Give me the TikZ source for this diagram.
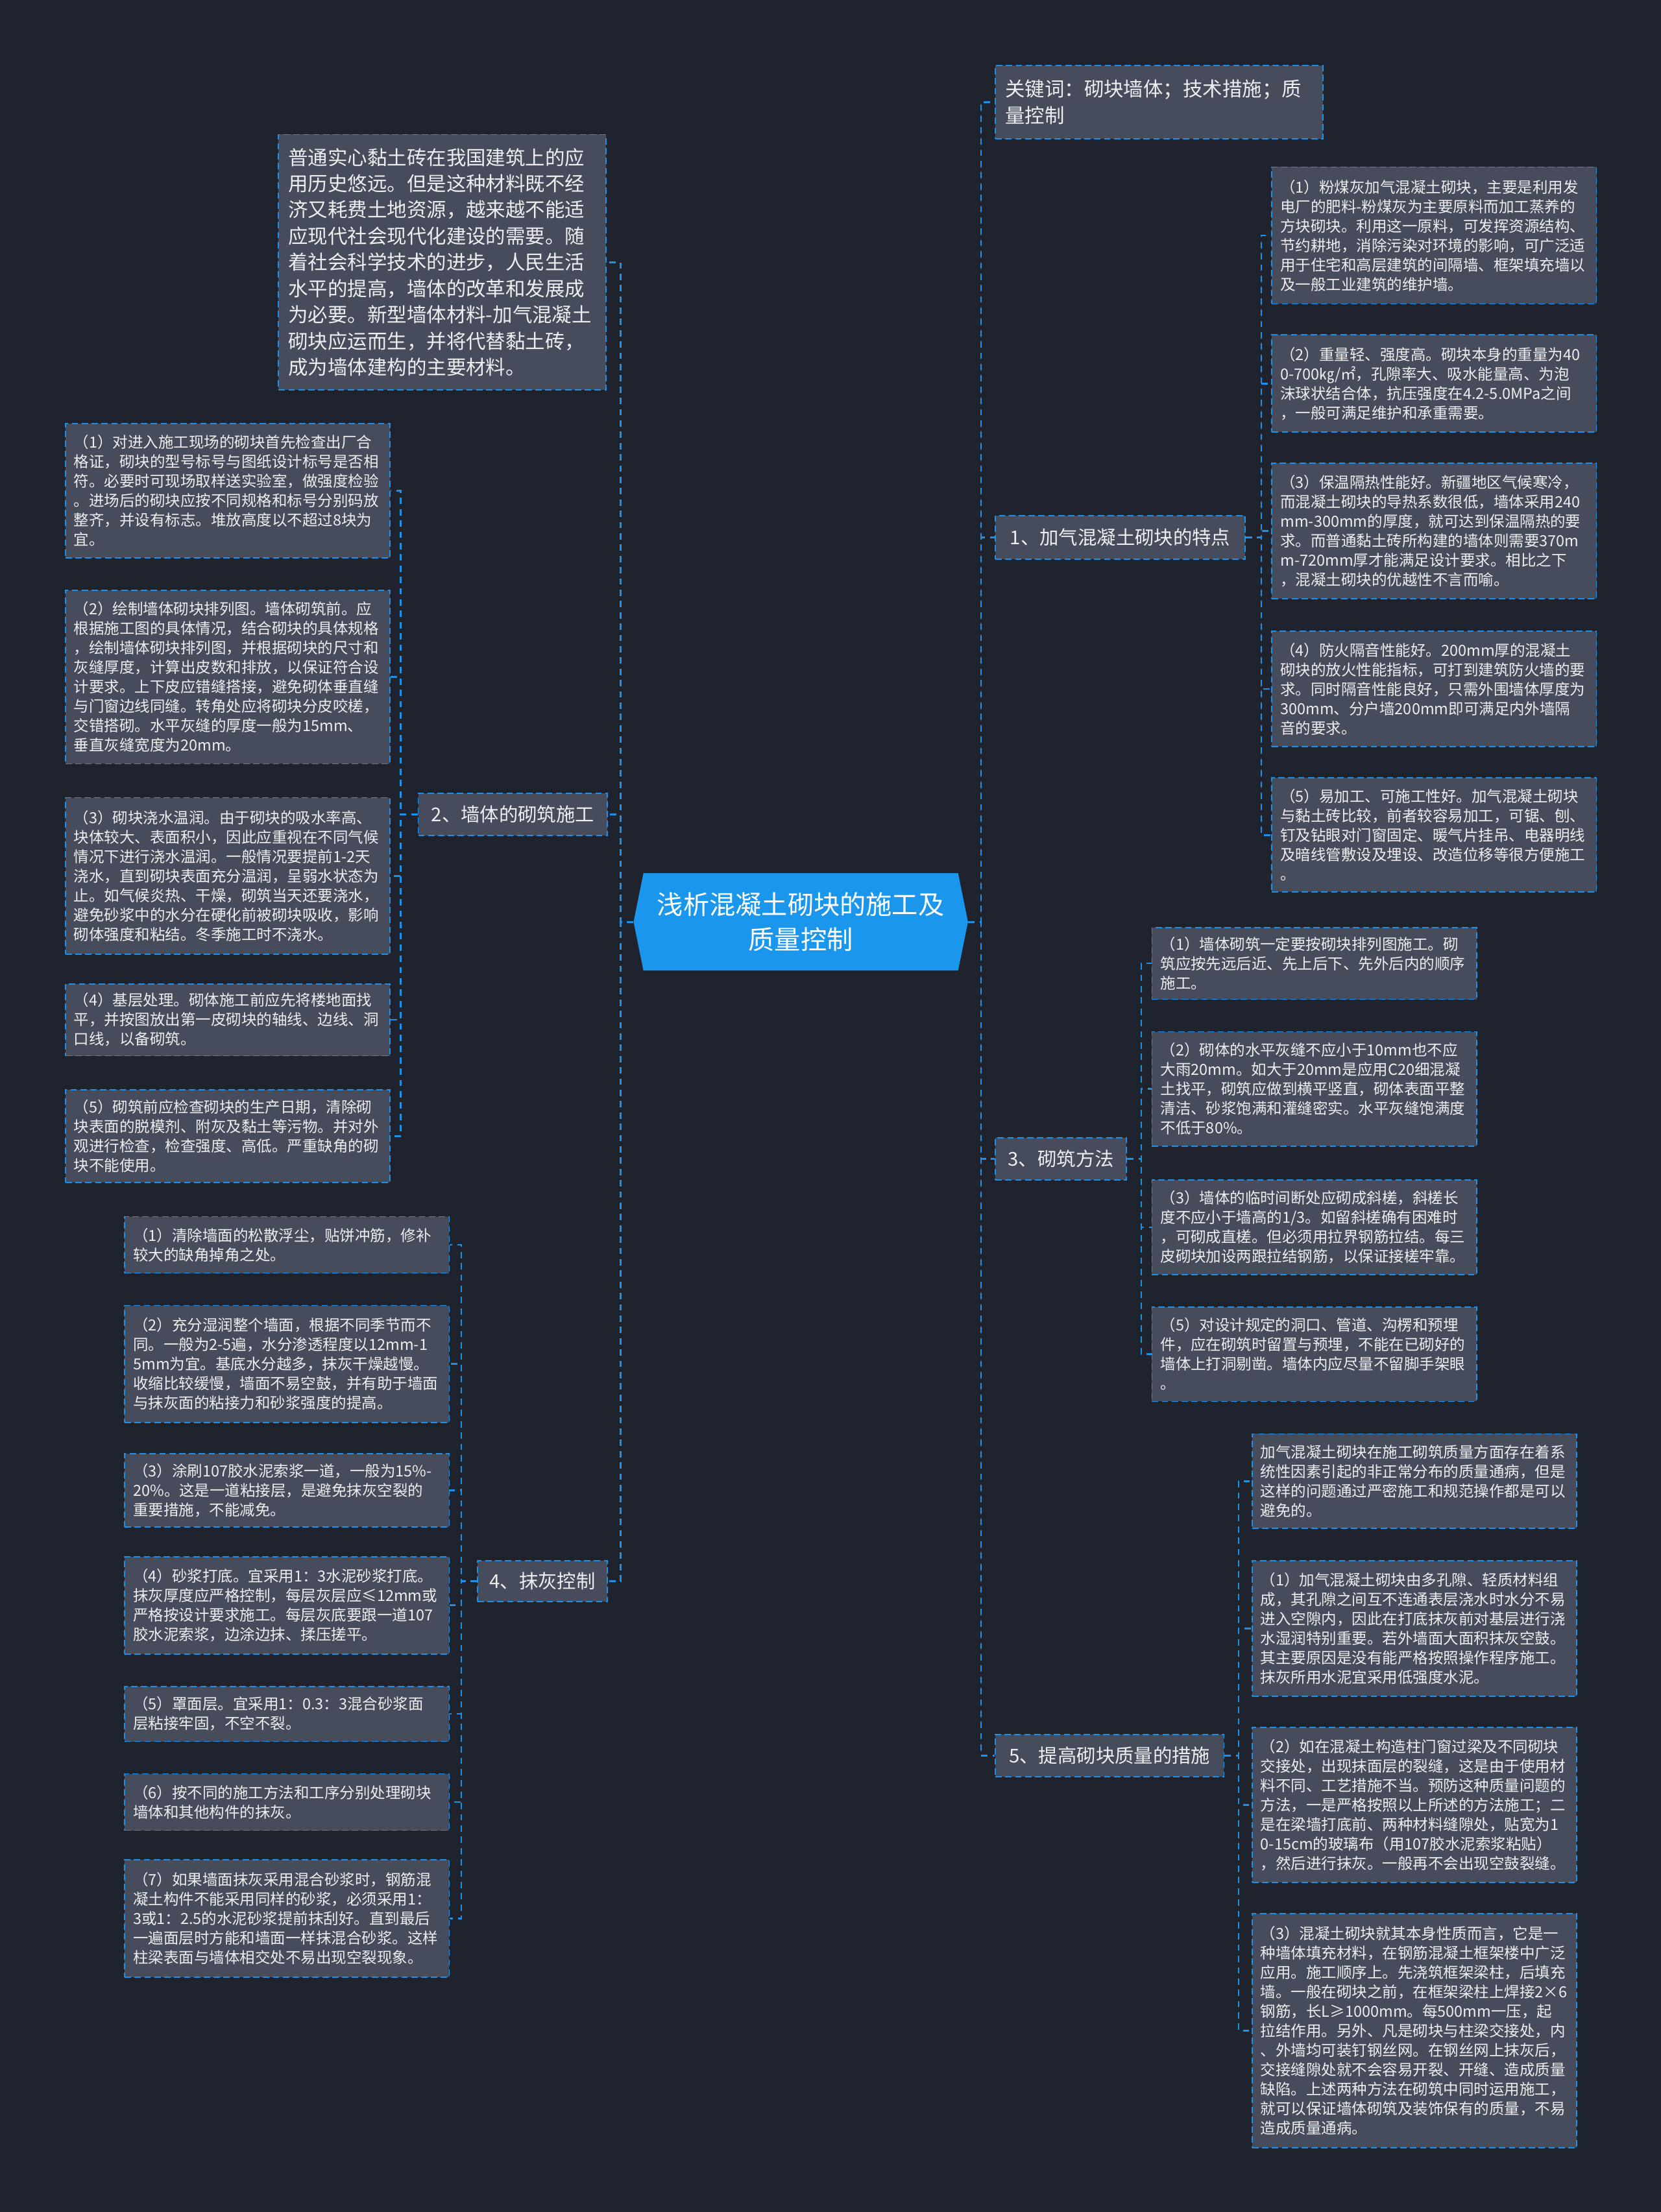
\documentclass[tikz,border=0pt]{standalone}
\usepackage{fontspec}
\setmainfont{Noto Sans CJK SC}
\usepackage{tikz}

\definecolor{bgcol}{RGB}{31,35,46}
\definecolor{boxcol}{RGB}{70,76,91}
\definecolor{linecol}{RGB}{30,145,230}
\definecolor{titlecol}{RGB}{26,150,236}
\definecolor{txtcol}{RGB}{238,238,240}

\tikzset{
  box/.style = {draw = linecol, fill = boxcol, dash pattern = on 4.5pt off 2.5pt,
    line width = 0.8pt, text = txtcol, anchor = north west, align = left, inner ysep = 0pt},
  leaf/.style = {box, font = \fontsize{10.8}{13.8}\selectfont, text width = 218pt, inner xsep = 6pt},
  big/.style = {box, font = \fontsize{14}{18.6}\selectfont, text width = 218pt, inner xsep = 7pt},
  sect/.style = {box, font = \fontsize{13.5}{16}\selectfont, align = center, inner xsep = 0pt},
  title/.style = {text = white, font = \fontsize{18.5}{25}\selectfont, align = center,
    minimum width = 237pt, minimum height = 69pt, inner sep = 0pt},
  link/.style = {draw = linecol, line width = 1.2pt, dash pattern = on 4.5pt off 3.5pt}
}

\begin{document}
\begin{tikzpicture}[x = 1pt, y = -1pt]
\useasboundingbox (0, 0) rectangle (1177, 1568);
\fill[bgcol] (0, 0) rectangle (1177, 1568);

% centre
\fill[titlecol] (449, 653.5) -- (456, 619) -- (679, 619) -- (686, 653.5) -- (679, 688) -- (456, 688) -- cycle;
\node (title) at (567.5, 653.5) [title] {浅析混凝土砌块的施工及\\质量控制};

% left side
\node (intro) at (197, 95) [big, minimum height = 181] {普通实心黏土砖在我国建筑上的应\\用历史悠远。但是这种材料既不经\\济又耗费土地资源，越来越不能适\\应现代社会现代化建设的需要。随\\着社会科学技术的进步，人民生活\\水平的提高，墙体的改革和发展成\\为必要。新型墙体材料-加气混凝土\\砌块应运而生，并将代替黏土砖，\\成为墙体建构的主要材料。};

\node (s2) at (296, 562) [sect, minimum width = 134, minimum height = 30] {2、墙体的砌筑施工};
\node (s2a) at (46, 300) [leaf, minimum height = 95] {（1）对进入施工现场的砌块首先检查出厂合\\格证，砌块的型号标号与图纸设计标号是否相\\符。必要时可现场取样送实验室，做强度检验\\。进场后的砌块应按不同规格和标号分别码放\\整齐，并设有标志。堆放高度以不超过8块为\\宜。};
\node (s2b) at (46, 418) [leaf, minimum height = 123] {（2）绘制墙体砌块排列图。墙体砌筑前。应\\根据施工图的具体情况，结合砌块的具体规格\\，绘制墙体砌块排列图，并根据砌块的尺寸和\\灰缝厚度，计算出皮数和排放，以保证符合设\\计要求。上下皮应错缝搭接，避免砌体垂直缝\\与门窗边线同缝。转角处应将砌块分皮咬槎，\\交错搭砌。水平灰缝的厚度一般为15mm、\\垂直灰缝宽度为20mm。};
\node (s2c) at (46, 565) [leaf, minimum height = 111] {（3）砌块浇水温润。由于砌块的吸水率高、\\块体较大、表面积小，因此应重视在不同气候\\情况下进行浇水温润。一般情况要提前1-2天\\浇水，直到砌块表面充分温润，呈弱水状态为\\止。如气候炎热、干燥，砌筑当天还要浇水，\\避免砂浆中的水分在硬化前被砌块吸收，影响\\砌体强度和粘结。冬季施工时不浇水。};
\node (s2d) at (46, 697) [leaf, minimum height = 51] {（4）基层处理。砌体施工前应先将楼地面找\\平，并按图放出第一皮砌块的轴线、边线、洞\\口线，以备砌筑。};
\node (s2e) at (46, 772) [leaf, minimum height = 66] {（5）砌筑前应检查砌块的生产日期，清除砌\\块表面的脱模剂、附灰及黏土等污物。并对外\\观进行检查，检查强度、高低。严重缺角的砌\\块不能使用。};

\node (s4) at (338, 1106) [sect, minimum width = 92, minimum height = 29] {4、抹灰控制};
\node (s4a) at (88, 862) [leaf, minimum height = 40] {（1）清除墙面的松散浮尘，贴饼冲筋，修补\\较大的缺角掉角之处。};
\node (s4b) at (88, 925) [leaf, minimum height = 83] {（2）充分湿润整个墙面，根据不同季节而不\\同。一般为2-5遍，水分渗透程度以12mm-1\\5mm为宜。基底水分越多，抹灰干燥越慢。\\收缩比较缓慢，墙面不易空鼓，并有助于墙面\\与抹灰面的粘接力和砂浆强度的提高。};
\node (s4c) at (88, 1030) [leaf, minimum height = 52] {（3）涂刷107胶水泥索浆一道，一般为15\%-\\20\%。这是一道粘接层，是避免抹灰空裂的\\重要措施，不能减免。};
\node (s4d) at (88, 1103) [leaf, minimum height = 69] {（4）砂浆打底。宜采用1：3水泥砂浆打底。\\抹灰厚度应严格控制，每层灰层应≤12mm或\\严格按设计要求施工。每层灰底要跟一道107\\胶水泥索浆，边涂边抹、揉压搓平。};
\node (s4e) at (88, 1195) [leaf, minimum height = 39] {（5）罩面层。宜采用1：0.3：3混合砂浆面\\层粘接牢固，不空不裂。};
\node (s4f) at (88, 1257) [leaf, minimum height = 40] {（6）按不同的施工方法和工序分别处理砌块\\墙体和其他构件的抹灰。};
\node (s4g) at (88, 1318) [leaf, minimum height = 83] {（7）如果墙面抹灰采用混合砂浆时，钢筋混\\凝土构件不能采用同样的砂浆，必须采用1：\\3或1：2.5的水泥砂浆提前抹刮好。直到最后\\一遍面层时方能和墙面一样抹混合砂浆。这样\\柱梁表面与墙体相交处不易出现空裂现象。};

% right side
\node (kw) at (705, 46) [big, minimum height = 52] {关键词：砌块墙体；技术措施；质\\量控制};

\node (s1) at (705, 365) [sect, minimum width = 177, minimum height = 31] {1、加气混凝土砌块的特点};
\node (s1a) at (901, 118) [leaf, minimum height = 97] {（1）粉煤灰加气混凝土砌块，主要是利用发\\电厂的肥料-粉煤灰为主要原料而加工蒸养的\\方块砌块。利用这一原料，可发挥资源结构、\\节约耕地，消除污染对环境的影响，可广泛适\\用于住宅和高层建筑的间隔墙、框架填充墙以\\及一般工业建筑的维护墙。};
\node (s1b) at (901, 237) [leaf, minimum height = 69] {（2）重量轻、强度高。砌块本身的重量为40\\0-700㎏/㎡，孔隙率大、吸水能量高、为泡\\沫球状结合体，抗压强度在4.2-5.0MPa之间\\，一般可满足维护和承重需要。};
\node (s1c) at (901, 328) [leaf, minimum height = 96] {（3）保温隔热性能好。新疆地区气候寒冷，\\而混凝土砌块的导热系数很低，墙体采用240\\mm-300mm的厚度，就可达到保温隔热的要\\求。而普通黏土砖所构建的墙体则需要370m\\m-720mm厚才能满足设计要求。相比之下\\，混凝土砌块的优越性不言而喻。};
\node (s1d) at (901, 447) [leaf, minimum height = 82] {（4）防火隔音性能好。200mm厚的混凝土\\砌块的放火性能指标，可打到建筑防火墙的要\\求。同时隔音性能良好，只需外围墙体厚度为\\300mm、分户墙200mm即可满足内外墙隔\\音的要求。};
\node (s1e) at (901, 551) [leaf, minimum height = 81] {（5）易加工、可施工性好。加气混凝土砌块\\与黏土砖比较，前者较容易加工，可锯、刨、\\钉及钻眼对门窗固定、暖气片挂吊、电器明线\\及暗线管敷设及埋设、改造位移等很方便施工\\。};

\node (s3) at (705, 806) [sect, minimum width = 93, minimum height = 30] {3、砌筑方法};
\node (s3a) at (816, 657) [leaf, minimum height = 51] {（1）墙体砌筑一定要按砌块排列图施工。砌\\筑应按先远后近、先上后下、先外后内的顺序\\施工。};
\node (s3b) at (816, 731) [leaf, minimum height = 81] {（2）砌体的水平灰缝不应小于10mm也不应\\大雨20mm。如大于20mm是应用C20细混凝\\土找平，砌筑应做到横平竖直，砌体表面平整\\清洁、砂浆饱满和灌缝密实。水平灰缝饱满度\\不低于80\%。};
\node (s3c) at (816, 836) [leaf, minimum height = 67] {（3）墙体的临时间断处应砌成斜槎，斜槎长\\度不应小于墙高的1/3。如留斜槎确有困难时\\，可砌成直槎。但必须用拉界钢筋拉结。每三\\皮砌块加设两跟拉结钢筋，以保证接槎牢靠。};
\node (s3d) at (816, 926) [leaf, minimum height = 67] {（5）对设计规定的洞口、管道、沟楞和预埋\\件，应在砌筑时留置与预埋，不能在已砌好的\\墙体上打洞剔凿。墙体内应尽量不留脚手架眼\\。};

\node (s5) at (705, 1229) [sect, minimum width = 162, minimum height = 30] {5、提高砌块质量的措施};
\node (s5a) at (887, 1016) [leaf, minimum height = 67] {加气混凝土砌块在施工砌筑质量方面存在着系\\统性因素引起的非正常分布的质量通病，但是\\这样的问题通过严密施工和规范操作都是可以\\避免的。};
\node (s5b) at (887, 1106) [leaf, minimum height = 96] {（1）加气混凝土砌块由多孔隙、轻质材料组\\成，其孔隙之间互不连通表层浇水时水分不易\\进入空隙内，因此在打底抹灰前对基层进行浇\\水湿润特别重要。若外墙面大面积抹灰空鼓。\\其主要原因是没有能严格按照操作程序施工。\\抹灰所用水泥宜采用低强度水泥。};
\node (s5c) at (887, 1224) [leaf, minimum height = 110] {（2）如在混凝土构造柱门窗过梁及不同砌块\\交接处，出现抹面层的裂缝，这是由于使用材\\料不同、工艺措施不当。预防这种质量问题的\\方法，一是严格按照以上所述的方法施工；二\\是在梁墙打底前、两种材料缝隙处，贴宽为1\\0-15cm的玻璃布（用107胶水泥索浆粘贴）\\，然后进行抹灰。一般再不会出现空鼓裂缝。};
\node (s5d) at (887, 1356) [leaf, minimum height = 166] {（3）混凝土砌块就其本身性质而言，它是一\\种墙体填充材料，在钢筋混凝土框架楼中广泛\\应用。施工顺序上。先浇筑框架梁柱，后填充\\墙。一般在砌块之前，在框架梁柱上焊接2×6\\钢筋，长L≥1000mm。每500mm一压，起\\拉结作用。另外、凡是砌块与柱梁交接处，内\\、外墙均可装钉钢丝网。在钢丝网上抹灰后，\\交接缝隙处就不会容易开裂、开缝、造成质量\\缺陷。上述两种方法在砌筑中同时运用施工，\\就可以保证墙体砌筑及装饰保有的质量，不易\\造成质量通病。};

% connectors
\foreach \n in {intro, s2, s4}
  \draw[link] (title.west) -- ++(-9, 0) |- (\n.east);
\foreach \n in {kw, s1, s3, s5}
  \draw[link] (title.east) -- ++(9, 0) |- (\n.west);
\foreach \n in {s2a, s2b, s2c, s2d, s2e}
  \draw[link] (s2.west) -- ++(-12, 0) |- (\n.east);
\foreach \n in {s4a, s4b, s4c, s4d, s4e, s4f, s4g}
  \draw[link] (s4.west) -- ++(-11, 0) |- (\n.east);
\foreach \n in {s1a, s1b, s1c, s1d, s1e}
  \draw[link] (s1.east) -- ++(11, 0) |- (\n.west);
\foreach \n in {s3a, s3b, s3c, s3d}
  \draw[link] (s3.east) -- ++(10, 0) |- (\n.west);
\foreach \n in {s5a, s5b, s5c, s5d}
  \draw[link] (s5.east) -- ++(10, 0) |- (\n.west);
\end{tikzpicture}
\end{document}
